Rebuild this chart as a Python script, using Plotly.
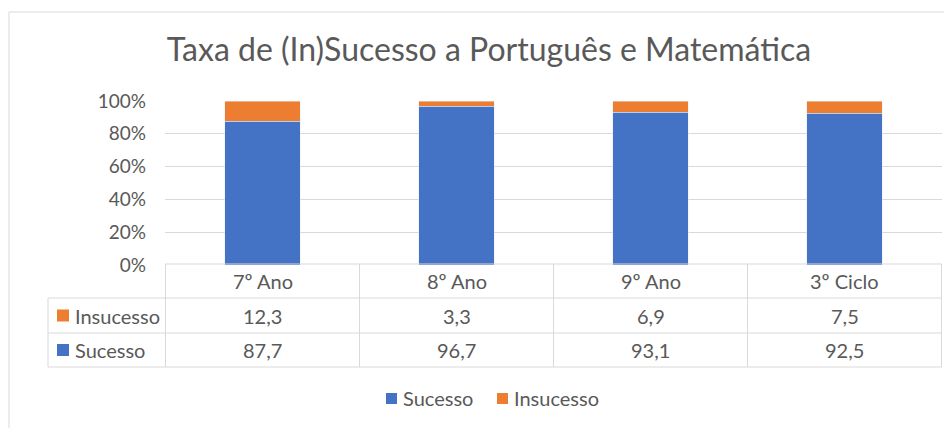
import plotly.graph_objects as go

categories = ["7º Ano", "8º Ano", "9º Ano", "3º Ciclo"]
sucesso = [87.7, 96.7, 93.1, 92.5]
insucesso = [12.3, 3.3, 6.9, 7.5]
y_ticks = [0, 20, 40, 60, 80, 100]
y_ticktext = [f"{v}%" for v in y_ticks]

BLUE = "#4472C4"
ORANGE = "#ED7D31"
GRID = "#D9D9D9"
TEXT = "#595959"
FONT = "Lato"

# the page body has an 8px margin, so the figure is drawn 8px smaller
# and every pixel position below is given in page coordinates
OFF = 8
W, H = 952 - OFF, 428 - OFF
PL, PR, PT, PB = 165, 942, 101, 265  # plot area, page pixels


def px(x):
    return (x - PL) / (PR - PL)


def py(y):
    return (PB - y) / (PB - PT)


fig = go.Figure()
fig.add_bar(x=categories, y=sucesso, name="Sucesso", marker_color=BLUE)
fig.add_bar(x=categories, y=insucesso, name="Insucesso", marker_color=ORANGE)

# data table under the plot
rows = [("Insucesso", insucesso, ORANGE), ("Sucesso", sucesso, BLUE)]
row_lines = [264, 298, 333, 367]
line = dict(color=GRID, width=1)
shapes = []
annotations = []

shapes.append(dict(type="line", xref="paper", yref="paper",
                   x0=px(PL), x1=px(PR), y0=py(row_lines[0]), y1=py(row_lines[0]), line=line))
for yl in row_lines[1:]:
    shapes.append(dict(type="line", xref="paper", yref="paper",
                       x0=px(48), x1=px(PR), y0=py(yl), y1=py(yl), line=line))
shapes.append(dict(type="line", xref="paper", yref="paper",
                   x0=px(48), x1=px(48), y0=py(row_lines[1]), y1=py(row_lines[-1]), line=line))
for i in range(len(categories) + 1):
    shapes.append(dict(type="line", xref="x", yref="paper",
                       x0=i - 0.5, x1=i - 0.5, y0=py(row_lines[0]), y1=py(row_lines[-1]), line=line))

for i, cat in enumerate(categories):
    annotations.append(dict(x=i, y=py(281), xref="x", yref="paper", text=cat,
                            showarrow=False, yanchor="middle"))

for r, (label, vals, color) in enumerate(rows):
    yc = (row_lines[r + 1] + row_lines[r + 2]) / 2
    shapes.append(dict(type="rect", xref="paper", yref="paper",
                       x0=px(57), x1=px(69), y0=py(yc - 6), y1=py(yc + 6),
                       fillcolor=color, line=dict(width=0)))
    annotations.append(dict(x=px(73), y=py(yc), xref="paper", yref="paper", text=label,
                            showarrow=False, xanchor="left", yanchor="middle"))
    for i, v in enumerate(vals):
        annotations.append(dict(x=i, y=py(yc), xref="x", yref="paper",
                                text=f"{v:.1f}".replace(".", ","),
                                showarrow=False, yanchor="middle"))

# legend, drawn by hand to keep Excel's tight spacing
for name, color, x0 in [("Sucesso", BLUE, 386), ("Insucesso", ORANGE, 497)]:
    shapes.append(dict(type="rect", xref="paper", yref="paper",
                       x0=px(x0), x1=px(x0 + 11), y0=py(404), y1=py(393),
                       fillcolor=color, line=dict(width=0)))
    annotations.append(dict(x=px(x0 + 15), y=py(398), xref="paper", yref="paper",
                            text=name, showarrow=False, xanchor="left", yanchor="middle"))

# chart border
shapes.append(dict(type="rect", xref="paper", yref="paper",
                   x0=px(9), x1=px(975), y0=py(440), y1=py(12),
                   line=dict(color=GRID, width=1)))

fig.update_layout(
    width=W, height=H,
    margin=dict(l=PL - OFF, r=952 - PR, t=PT - OFF, b=428 - PB),
    paper_bgcolor="white", plot_bgcolor="white",
    barmode="stack", bargap=0.61,
    font=dict(family=FONT, size=20, color=TEXT),
    title=dict(text="Taxa de (In)Sucesso a Português e Matemática",
               x=(489 - OFF) / W, xanchor="center", y=1 - (50 - OFF) / H, yanchor="middle",
               font=dict(size=32, color=TEXT)),
    showlegend=False,
    shapes=shapes, annotations=annotations,
    hovermode=False,
)
fig.update_xaxes(showticklabels=False, showline=False, showgrid=False, ticks="")
fig.update_yaxes(range=[0, 100], tickvals=y_ticks, ticktext=y_ticktext,
                 tickfont=dict(size=19),
                 showgrid=True, gridcolor=GRID, gridwidth=1, zeroline=False,
                 showline=False, ticks="", ticklabelstandoff=18)

fig.write_html("out.html")
